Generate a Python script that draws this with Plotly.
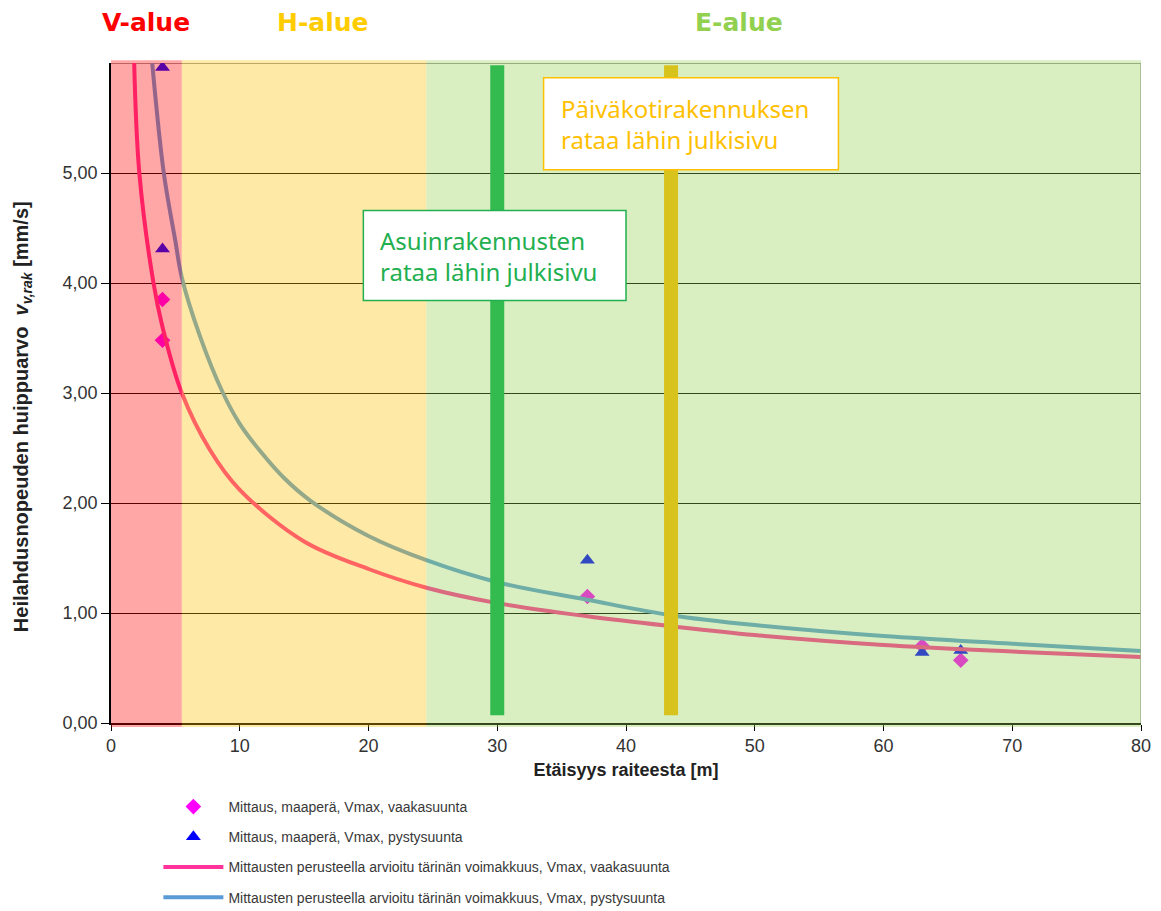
import plotly.graph_objects as go

# ---------------- data ----------------
region_edges = [0, 5.5, 24.5, 80]
region_names = ["V-alue", "H-alue", "E-alue"]
region_label_x = [2.7, 16.5, 48.8]
region_fill = ["rgba(255,0,0,0.35)", "rgba(255,192,0,0.35)", "rgba(146,208,80,0.35)"]
region_text_color = ["#FF0000", "#FFCC00", "#92D050"]

facade_x = [30, 43.5]
facade_colors = ["#33BB4F", "#D8C31C"]
facade_labels = ["Asuinrakennusten<br>rataa lähin julkisivu",
                 "Päiväkotirakennuksen<br>rataa lähin julkisivu"]
facade_text_colors = ["#22AF50", "#FFC000"]
facade_box_x = [[19.6, 40.0], [33.6, 56.5]]
facade_box_y = [[3.84, 4.66], [5.03, 5.865]]

meas_h_x = [4, 4, 37, 63, 66]
meas_h_y = [3.85, 3.48, 1.15, 0.70, 0.57]
meas_v_x = [4, 4, 37, 63, 66]
meas_v_y = [5.96, 4.31, 1.48, 0.64, 0.66]

est_h_x = [1.8, 2.2, 3.3, 4.0, 5.5, 7.7, 10, 15, 20, 24.5, 30, 37, 43.5, 50, 60, 70, 80]
est_h_y = [6.0, 5.0, 4.0, 3.6, 3.0, 2.48, 2.12, 1.65, 1.40, 1.23, 1.09, 0.97, 0.88, 0.80, 0.71, 0.65, 0.60]
est_v_x = [3.2, 4.1, 5.0, 5.5, 6.9, 8.7, 10, 11.6, 13.5, 15.5, 20, 24.5, 30, 37, 43.5, 50, 60, 70, 80]
est_v_y = [6.0, 5.0, 4.38, 4.05, 3.52, 3.0, 2.72, 2.47, 2.22, 2.02, 1.7, 1.48, 1.28, 1.12, 0.98, 0.89, 0.79, 0.72, 0.655]

names = ["Mittaus, maaperä, Vmax, vaakasuunta",
         "Mittaus, maaperä, Vmax, pystysuunta",
         "Mittausten perusteella arvioitu tärinän voimakkuus, Vmax, vaakasuunta",
         "Mittausten perusteella arvioitu tärinän voimakkuus, Vmax, pystysuunta"]

x_ticks = [0, 10, 20, 30, 40, 50, 60, 70, 80]
y_ticks = [0, 1, 2, 3, 4, 5]

x_title = "<b>Etäisyys raiteesta [m]</b>"
y_title = "<b>Heilahdusnopeuden huippuarvo  <i>v</i><sub><i>v,rak</i></sub> [mm/s]</b>"

# ---------------- figure ----------------
fig = go.Figure()

fig.add_trace(go.Scatter(x=meas_h_x, y=meas_h_y, mode="markers", name=names[0],
                         marker=dict(symbol="diamond", size=12, color="#FF00FF"),
                         legendgroup="a", legendrank=1))
fig.add_trace(go.Scatter(x=meas_v_x, y=meas_v_y, mode="markers", name=names[1],
                         marker=dict(symbol="triangle-up", size=13, color="#0000FF"),
                         legendgroup="b", legendrank=2))
fig.add_trace(go.Scatter(x=est_h_x, y=est_h_y, mode="lines", name=names[2],
                         line=dict(color="#FF3399", width=4, shape="spline"),
                         legendgroup="c", legendrank=3))
fig.add_trace(go.Scatter(x=est_v_x, y=est_v_y, mode="lines", name=names[3],
                         line=dict(color="#5B9BD5", width=4, shape="spline"),
                         legendgroup="d", legendrank=4))

# top border / right border
fig.add_shape(type="line", xref="paper", yref="y", x0=0, x1=1, y0=6, y1=6,
              line=dict(color="#333333", width=1), layer="below")
fig.add_shape(type="line", xref="x", yref="paper", x0=80, x1=80, y0=0, y1=1,
              line=dict(color="#A0A0A0", width=1.5), layer="above")

# transparent zone overlays (drawn above traces, tinting them)
for i in range(3):
    fig.add_shape(type="rect", xref="x", yref="paper",
                  x0=region_edges[i], x1=region_edges[i + 1], y0=-0.006, y1=1.004,
                  fillcolor=region_fill[i], line=dict(width=0), layer="above")
    fig.add_annotation(x=region_label_x[i], y=1.062, xref="x", yref="paper",
                       xanchor="center", yanchor="middle",
                       text="<b>%s</b>" % region_names[i], showarrow=False,
                       font=dict(family="DejaVu Sans", size=25, color=region_text_color[i]))

# facade bars and labels
for i in range(2):
    fig.add_shape(type="line", xref="x", yref="y", x0=facade_x[i], x1=facade_x[i],
                  y0=0.07, y1=5.98, line=dict(color=facade_colors[i], width=14), layer="above")
for i in range(2):
    fig.add_shape(type="rect", xref="x", yref="y",
                  x0=facade_box_x[i][0], x1=facade_box_x[i][1],
                  y0=facade_box_y[i][0], y1=facade_box_y[i][1],
                  fillcolor="white", line=dict(color=facade_text_colors[i], width=1.5),
                  layer="above")
    fig.add_annotation(x=facade_box_x[i][0], y=(facade_box_y[i][0] + facade_box_y[i][1]) / 2,
                       xref="x", yref="y", xanchor="left", yanchor="middle",
                       xshift=15, text=facade_labels[i], showarrow=False, align="left",
                       font=dict(family="Noto Sans", size=24, color=facade_text_colors[i]))

# y axis title as rotated annotation
fig.add_annotation(x=-0.086, y=0.464, xref="paper", yref="paper",
                   xanchor="center", yanchor="middle", textangle=-90,
                   text=y_title, showarrow=False,
                   font=dict(family="Liberation Sans", size=20, color="#222222"))

fig.update_layout(
    width=1161, height=911,
    margin=dict(l=103, r=28, t=55, b=196, autoexpand=False),
    paper_bgcolor="white", plot_bgcolor="white",
    separators=", ",
    font=dict(family="Liberation Sans", color="#333333"),
    showlegend=True,
    legend=dict(x=0.046, y=-0.103, xanchor="left", yanchor="top",
                traceorder="grouped", tracegroupgap=9, itemwidth=60,
                font=dict(family="Liberation Sans", size=14, color="#383838"),
                bgcolor="rgba(0,0,0,0)"),
)

fig.update_xaxes(range=[0, 80], tickvals=x_ticks, showgrid=False, zeroline=False,
                 showline=True, linecolor="#000000", linewidth=1.5,
                 ticks="outside", ticklen=6, tickcolor="#000000",
                 tickfont=dict(family="Liberation Sans", size=18, color="#333333"),
                 title=dict(text=x_title, standoff=8,
                            font=dict(family="Liberation Sans", size=18, color="#222222")))
fig.update_yaxes(range=[0, 6], tickvals=y_ticks, tickformat=".2f",
                 showgrid=True, gridcolor="#000000", gridwidth=1, zeroline=False,
                 showline=True, linecolor="#000000", linewidth=1.5,
                 ticks="outside", ticklen=8, tickcolor="#000000",
                 tickfont=dict(family="Liberation Sans", size=18, color="#333333"))

fig.write_html("out.html")
